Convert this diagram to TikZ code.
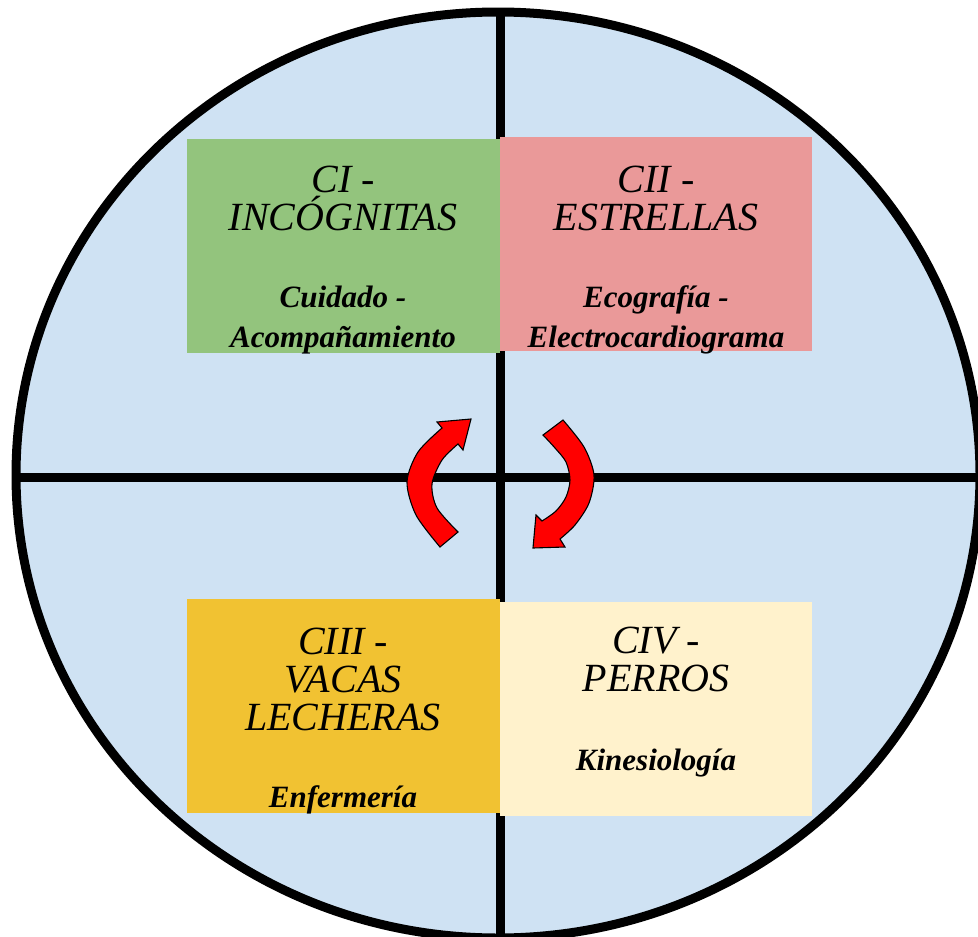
\documentclass[tikz,border=0pt]{standalone}
\usepackage{fontspec}
\setmainfont{Liberation Serif}
\definecolor{skyfill}{HTML}{CFE2F3}
\definecolor{qgreen}{HTML}{93C47D}
\definecolor{qred}{HTML}{EA9999}
\definecolor{qyellow}{HTML}{F1C232}
\definecolor{qcream}{HTML}{FFF2CC}
\tikzset{
  quadbox/.style={draw=none, inner sep=0pt, minimum width=313pt, minimum height=214pt},
  headtext/.style={anchor=base, align=center, inner sep=0pt,
    font=\itshape\fontsize{40}{38}\selectfont},
  subtext/.style={anchor=base, align=center, inner sep=0pt,
    font=\bfseries\itshape\fontsize{31}{40}\selectfont},
  cycarrow/.style={fill=red, draw=black, line width=1.1pt, line join=miter},
  axisline/.style={line width=9pt, black},
}
\begin{document}
\begin{tikzpicture}[x=1pt, y=-1pt]
\useasboundingbox (0,0) rectangle (978,937);
\clip (0,0) rectangle (978,937);

% disc and its quadrant axes
\coordinate (ctr) at (498,475);
\fill[skyfill] (ctr) ellipse [x radius=482, y radius=463];
\coordinate (ntop) at (500,12);
\coordinate (nbot) at (500,940);
\coordinate (wleft) at (16,477);
\coordinate (eright) at (982,477);
\begin{scope}
  \clip (ctr) ellipse [x radius=482, y radius=463];
  \draw[axisline] (ntop) -- (nbot);
  \draw[axisline] (wleft) -- (eright);
\end{scope}
\draw[line width=9pt] (ctr) ellipse [x radius=482, y radius=463];

% quadrant boxes
\node[quadbox, fill=qgreen]  (q1) at (343.5,246) {};
\node[quadbox, fill=qred, minimum width=312pt]   (q2) at (656,244) {};
\node[quadbox, fill=qyellow] (q3) at (343.5,706) {};
\node[quadbox, fill=qcream, minimum width=312pt]  (q4) at (656,709) {};

% labels (base anchor = baseline of the last line)
\node[headtext] (h1) at (343,230) {CI -\\INCÓGNITAS};
\node[subtext]  (s1) at (343,347) {Cuidado -\\Acompañamiento};
\node[headtext] (h2) at (656,230) {CII -\\ESTRELLAS};
\node[subtext]  (s2) at (656,347) {Ecografía -\\Electrocardiograma};
\node[headtext] (h3) at (343,730) {CIII -\\VACAS\\LECHERAS};
\node[subtext]  (s3) at (343,807) {Enfermería};
\node[headtext] (h4) at (656,691) {CIV -\\PERROS};
\node[subtext]  (s4) at (656,770) {Kinesiología};

% rotation arrows
\draw[cycarrow] (440,547) -- plot[smooth] coordinates {(440,547) (416,515) (407,482) (418,452) (442,428)}
  -- (437,422) -- (471,419) -- (463,450) -- (458,444)
  -- plot[smooth] coordinates {(458,444) (442,460) (432,484) (437,508) (458,532)} -- cycle;
\draw[cycarrow] (543,435) -- (563,420)
  -- plot[smooth] coordinates {(563,420) (584,447) (594,475) (589,503) (575,525) (560,539)}
  -- (565,547) -- (533,548) -- (536,515) -- (542,521)
  -- plot[smooth] coordinates {(542,521) (556,511) (566,497) (570,480) (566,462) (555,448) (543,435)} -- cycle;
\end{tikzpicture}
\end{document}
